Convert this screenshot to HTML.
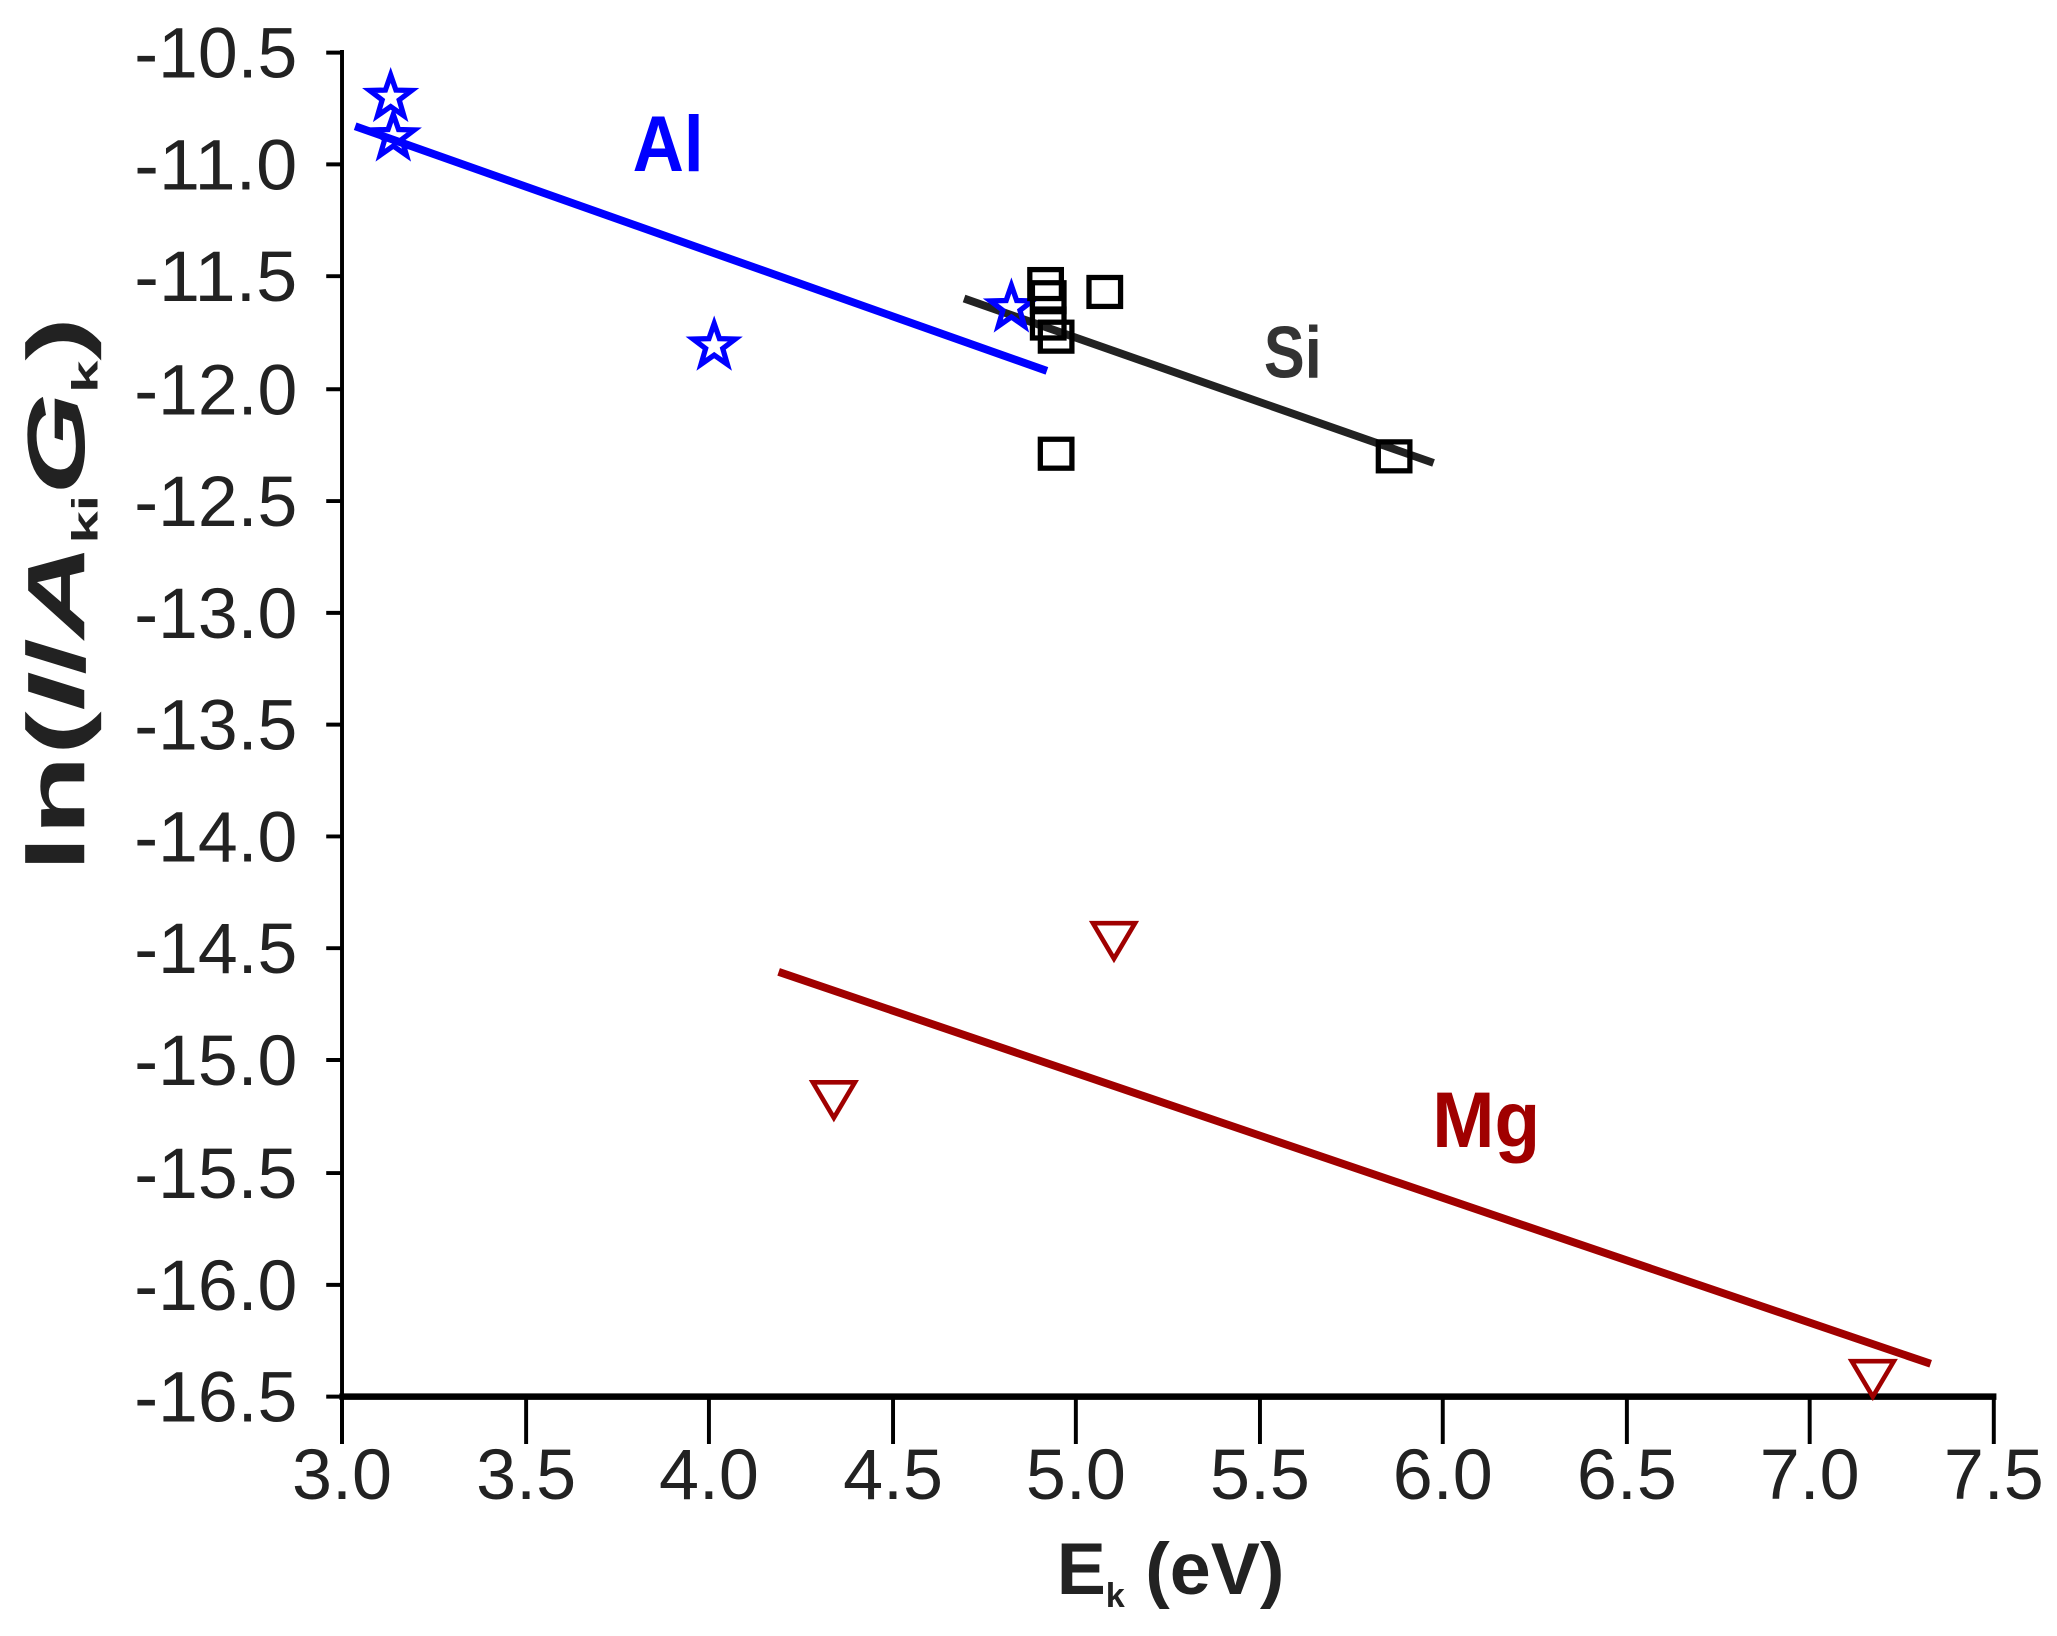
<!DOCTYPE html>
<html><head><meta charset="utf-8"><style>html,body{margin:0;padding:0;background:#fff}svg{display:block}</style></head>
<body>
<svg width="2057" height="1636" viewBox="0 0 1564 1244" xmlns="http://www.w3.org/2000/svg" font-family="Liberation Sans, sans-serif">
<rect width="1564" height="1244" fill="#fff"/>
<line x1="260" y1="38" x2="260" y2="1098" stroke="#000" stroke-width="3"/>
<line x1="258" y1="1062" x2="1518" y2="1062" stroke="#000" stroke-width="5"/>
<g stroke="#000" stroke-width="3">
<line x1="248" y1="40" x2="260" y2="40"/><line x1="248" y1="125" x2="260" y2="125"/>
<line x1="248" y1="210" x2="260" y2="210"/><line x1="248" y1="296" x2="260" y2="296"/>
<line x1="248" y1="381" x2="260" y2="381"/><line x1="248" y1="466" x2="260" y2="466"/>
<line x1="248" y1="551" x2="260" y2="551"/><line x1="248" y1="636" x2="260" y2="636"/>
<line x1="248" y1="721" x2="260" y2="721"/><line x1="248" y1="806" x2="260" y2="806"/>
<line x1="248" y1="892" x2="260" y2="892"/><line x1="248" y1="977" x2="260" y2="977"/>
<line x1="248" y1="1062" x2="260" y2="1062"/>
<line x1="260" y1="1062" x2="260" y2="1098"/><line x1="400" y1="1062" x2="400" y2="1098"/>
<line x1="539" y1="1062" x2="539" y2="1098"/><line x1="679" y1="1062" x2="679" y2="1098"/>
<line x1="818" y1="1062" x2="818" y2="1098"/><line x1="958" y1="1062" x2="958" y2="1098"/>
<line x1="1097" y1="1062" x2="1097" y2="1098"/><line x1="1237" y1="1062" x2="1237" y2="1098"/>
<line x1="1376" y1="1062" x2="1376" y2="1098"/><line x1="1516" y1="1062" x2="1516" y2="1098"/>
</g>
<g font-size="54" fill="#222" text-anchor="end">
<text x="226" y="59" textLength="124" lengthAdjust="spacingAndGlyphs">-10.5</text>
<text x="226" y="144" textLength="124" lengthAdjust="spacingAndGlyphs">-11.0</text>
<text x="226" y="229" textLength="124" lengthAdjust="spacingAndGlyphs">-11.5</text>
<text x="226" y="315" textLength="124" lengthAdjust="spacingAndGlyphs">-12.0</text>
<text x="226" y="400" textLength="124" lengthAdjust="spacingAndGlyphs">-12.5</text>
<text x="226" y="485" textLength="124" lengthAdjust="spacingAndGlyphs">-13.0</text>
<text x="226" y="570" textLength="124" lengthAdjust="spacingAndGlyphs">-13.5</text>
<text x="226" y="655" textLength="124" lengthAdjust="spacingAndGlyphs">-14.0</text>
<text x="226" y="740" textLength="124" lengthAdjust="spacingAndGlyphs">-14.5</text>
<text x="226" y="825" textLength="124" lengthAdjust="spacingAndGlyphs">-15.0</text>
<text x="226" y="911" textLength="124" lengthAdjust="spacingAndGlyphs">-15.5</text>
<text x="226" y="996" textLength="124" lengthAdjust="spacingAndGlyphs">-16.0</text>
<text x="226" y="1081" textLength="124" lengthAdjust="spacingAndGlyphs">-16.5</text>
</g>
<g font-size="54" fill="#222" text-anchor="middle">
<text x="260" y="1140" textLength="76" lengthAdjust="spacingAndGlyphs">3.0</text>
<text x="400" y="1140" textLength="76" lengthAdjust="spacingAndGlyphs">3.5</text>
<text x="539" y="1140" textLength="76" lengthAdjust="spacingAndGlyphs">4.0</text>
<text x="679" y="1140" textLength="76" lengthAdjust="spacingAndGlyphs">4.5</text>
<text x="818" y="1140" textLength="76" lengthAdjust="spacingAndGlyphs">5.0</text>
<text x="958" y="1140" textLength="76" lengthAdjust="spacingAndGlyphs">5.5</text>
<text x="1097" y="1140" textLength="76" lengthAdjust="spacingAndGlyphs">6.0</text>
<text x="1237" y="1140" textLength="76" lengthAdjust="spacingAndGlyphs">6.5</text>
<text x="1376" y="1140" textLength="76" lengthAdjust="spacingAndGlyphs">7.0</text>
<text x="1516" y="1140" textLength="76" lengthAdjust="spacingAndGlyphs">7.5</text>
</g>
<text x="890" y="1212" font-size="56" font-weight="bold" fill="#222" text-anchor="middle">E<tspan font-size="26" dy="10">k</tspan><tspan dy="-10"> (eV)</tspan></text>
<text transform="translate(64,452) rotate(-90) scale(1,0.62)" font-size="100" font-weight="bold" fill="#222" text-anchor="middle">ln(<tspan font-style="italic">I</tspan>/<tspan font-style="italic">A</tspan><tspan font-size="44" dy="16">ki</tspan><tspan font-style="italic" dy="-16">G</tspan><tspan font-size="44" dy="16">k</tspan><tspan dy="-16">)</tspan></text>
<line x1="270" y1="96" x2="796" y2="282" stroke="#0000ff" stroke-width="6"/>
<line x1="733" y1="227" x2="1090" y2="352" stroke="#222" stroke-width="6"/>
<line x1="592" y1="739" x2="1468" y2="1037" stroke="#a00000" stroke-width="6"/>
<defs>
<path id="st" d="M0,-17 L4,-5.5 L16,-5.2 L6.5,2 L10,14 L0,7 L-10,14 L-6.5,2 L-16,-5.2 L-4,-5.5 Z" fill="none" stroke="#0000ff" stroke-width="4"/>
<rect id="sq" x="-12" y="-11" width="24" height="22" fill="none" stroke="#000" stroke-width="4"/>
<path id="tr" d="M-16,-13 L16,-13 L0,14 Z" fill="none" stroke="#a00000" stroke-width="3.5"/>
</defs>
<use href="#st" x="297" y="74"/><use href="#st" x="299" y="104"/>
<use href="#st" x="543" y="263"/><use href="#st" x="769" y="234"/>
<use href="#sq" x="795" y="216"/><use href="#sq" x="797" y="226"/><use href="#sq" x="797" y="246"/>
<use href="#sq" x="803" y="256"/><use href="#sq" x="840" y="222"/><use href="#sq" x="803" y="345"/>
<use href="#sq" x="1060" y="347"/>
<use href="#tr" x="634" y="836"/><use href="#tr" x="847" y="715"/><use href="#tr" x="1424" y="1048"/>
<text x="508" y="130" font-size="60" font-weight="bold" fill="#0000ff" text-anchor="middle" textLength="54" lengthAdjust="spacingAndGlyphs">Al</text>
<text x="983" y="287" font-size="56" font-weight="bold" fill="#333" text-anchor="middle" textLength="44" lengthAdjust="spacingAndGlyphs">Si</text>
<text x="1130" y="872" font-size="60" font-weight="bold" fill="#a00000" text-anchor="middle" textLength="82" lengthAdjust="spacingAndGlyphs">Mg</text>
</svg>
</body></html>
